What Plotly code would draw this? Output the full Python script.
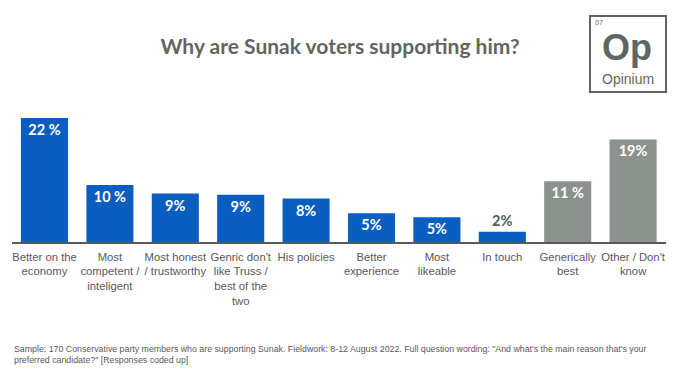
import plotly.graph_objects as go

categories = ["Better on the<br>economy", "Most<br>competent /<br>inteligent",
              "Most honest<br>/ trustworthy", "Genric don't<br>like Truss /<br>best of the<br>two",
              "His policies", "Better<br>experience", "Most<br>likeable", "In touch",
              "Generically<br>best", "Other / Don't<br>know"]
values = [22.0, 10.1, 8.6, 8.4, 7.7, 5.1, 4.4, 1.8, 10.8, 18.2]
value_labels = ["22 %", "10 %", "9%", "9%", "8%", "5%", "5%", "2%", "11 %", "19%"]
bar_colors = ["#0A5EC0"] * 8 + ["#8B928E"] * 2
text_pos = ["inside"] * 7 + ["outside"] + ["inside"] * 2
text_colors = ["white"] * 7 + ["#595959"] + ["white"] * 2

W, H = 680, 383
fig = go.Figure(go.Bar(
    x=list(range(len(categories))), y=values,
    marker=dict(color=bar_colors, line=dict(width=0)),
    text=value_labels, textposition=text_pos, insidetextanchor="end",
    textfont=dict(family="Lato, sans-serif", size=14.5, color=text_colors, weight="bold"),
    outsidetextfont=dict(family="Lato, sans-serif", size=14.5, color="#595959", weight="bold"),
    cliponaxis=False, constraintext="none", hoverinfo="skip",
))

x0, x1 = 11.8, 665.8
ytop, ybase = 110, 242
fig.update_layout(
    width=W, height=H, plot_bgcolor="white", paper_bgcolor="white",
    margin=dict(l=0, r=0, t=0, b=0, autoexpand=False), bargap=0.28, showlegend=False,
    xaxis=dict(domain=[x0 / W, x1 / W], tickmode="array",
               tickvals=list(range(len(categories))), ticktext=categories,
               range=[-0.5, len(categories) - 0.5], automargin=False,
               showline=True, linecolor="#595959", linewidth=2, ticks="",
               tickfont=dict(family="Liberation Sans, Arial", size=11.3, color="#595959"),
               showgrid=False, zeroline=False, ticklabelstandoff=3),
    yaxis=dict(domain=[(H - ybase) / H, (H - ytop) / H], range=[0, 22 * (ybase - ytop) / 124],
               visible=False, showgrid=False, zeroline=False, automargin=False),
    title=dict(text="<b>Why are Sunak voters supporting him?</b>", x=340 / W, xanchor="center",
               xref="paper", y=1 - 47 / H, yanchor="middle", yref="container",
               font=dict(family="Lato, sans-serif", size=21, color="#5F6660")),
)

# Logo
fig.add_shape(type="rect", xref="paper", yref="paper",
              x0=590 / W, x1=666 / W, y0=1 - 92 / H, y1=1 - 16 / H,
              line=dict(color="#5F6660", width=2), fillcolor="white")
fig.add_annotation(text="07", xref="paper", yref="paper", x=593 / W, y=1 - 23 / H,
                   xanchor="left", yanchor="middle", showarrow=False,
                   font=dict(family="Liberation Sans, Arial", size=7, color="#5F6660"))
fig.add_annotation(text="<b>Op</b>", xref="paper", yref="paper", x=627 / W, y=1 - 47 / H,
                   xanchor="center", yanchor="middle", showarrow=False,
                   font=dict(family="Liberation Sans, Arial", size=36, color="#5F6660"))
fig.add_annotation(text="Opinium", xref="paper", yref="paper", x=628 / W, y=1 - 79 / H,
                   xanchor="center", yanchor="middle", showarrow=False,
                   font=dict(family="Liberation Sans, Arial", size=14, color="#5F6660"))

# Footnote
fig.add_annotation(
    text=("Sample: 170 Conservative party members who are supporting Sunak. Fieldwork: 8-12 August 2022. "
          "Full question wording: \"And what's the main reason that's your<br>preferred candidate?\" [Responses coded up]"),
    xref="paper", yref="paper", x=12 / W, y=1 - 342 / H, xanchor="left", yanchor="top",
    align="left", showarrow=False,
    font=dict(family="Liberation Sans, Arial", size=8.8, color="#595959"))

fig.write_html("out.html", config={"displayModeBar": False},
               post_script="document.body.style.margin='0';document.body.style.padding='0';")
